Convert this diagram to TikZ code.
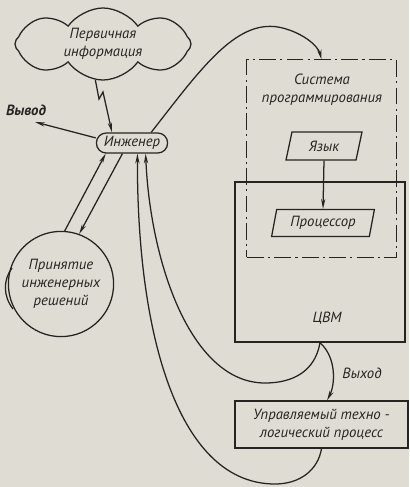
\documentclass[tikz,border=0pt]{standalone}
\usepackage{fontspec}
\setmainfont{PT Sans}
\usepackage{tikz}
\usetikzlibrary{shapes.geometric, shapes.symbols, shapes.misc, arrows.meta, calc, positioning}
\usepackage{xcolor}
\definecolor{paper}{RGB}{222,220,211}
\definecolor{ink}{RGB}{38,36,34}

\begin{document}
\begin{tikzpicture}[x=0.025cm, y=-0.025cm, line width=0.9pt, color=ink]
        \tikzstyle{lbl}=[font=\fontsize{10.5}{13}\selectfont\itshape, align=center, inner sep=1pt]
        \tikzstyle{slanted}=[draw, trapezium, trapezium left angle=77, trapezium right angle=103, trapezium stretches=true, lbl]
        \tikzstyle{dashdot}=[line width=0.7pt, dash pattern=on 12pt off 3pt on 1.5pt off 3pt]
        \tikzstyle{arrowline}=[-{Stealth[length=7pt, width=3pt]}]
        % page
        \path[use as bounding box, fill=paper] (0,0) rectangle (409,487);
        % cloud with the first-hand data
        \node[draw, cloud, cloud puffs=8, cloud puff arc=110, aspect=2.5, minimum width=4.4cm, minimum height=1.8cm, lbl] (info) at (103,44) {Первичная\\информация};
        % the engineer
        \node[draw, rounded corners=7pt, minimum width=1.78cm, minimum height=0.5cm, lbl] (eng) at (132,143) {Инженер};
        \node[lbl, font=\fontsize{10.5}{13}\selectfont\bfseries\itshape] (outlbl) at (26,110) {Вывод};
        \coordinate (outend) at (35,122);
        % decision making
        \node[draw, circle, minimum size=2.63cm, lbl] (dec) at (61,284) {Принятие\\инженерных\\решений};
        % computer and its programming system
        \node[draw, minimum width=4.25cm, minimum height=4cm] (comp) at (320,262) {};
        \node[lbl] (comptitle) at (327,318) {ЦВМ};
        \node[draw, dashdot, minimum width=3.725cm, minimum height=4.925cm] (sys) at (321.5,158.5) {};
        \node[lbl] (systitle) at (322,90) {Система\\программирования};
        \node[slanted, minimum width=1.9cm, minimum height=0.7cm] (lang) at (324,146) {Язык};
        \node[slanted, minimum width=2.575cm, minimum height=0.675cm] (proc) at (323,223) {Процессор};
        % controlled process
        \node[draw, minimum width=4.325cm, minimum height=1.175cm, lbl] (plant) at (321.5,424.5) {Управляемый техно -\\логический процесс};
        \node[lbl] (outlbl2) at (362,373) {Выход};
        % connectors
        \draw[arrowline] (info.258) -- (99,99) -- (103,92) -- (eng.152);
        \draw[arrowline] (eng.172) -- (outend);
        \draw[arrowline] (eng.29) .. controls (200,70) and (235,20) .. (278,27)
            .. controls (300,31) and (318,45) .. (sys.north);
        \draw[arrowline] (lang.south) -- (proc.north);
        \draw[arrowline] (dec.86) -- (eng.202);
        \draw[arrowline] (eng.228) -- (dec.70);
        \draw[arrowline] (comp.south) .. controls (337,358) and (335,385) .. (plant.77);
        \draw[arrowline] (comp.south) .. controls (315,372) and (292,383) .. (265,383)
            .. controls (190,383) and (150,260) .. (eng.322);
        \draw[arrowline] (plant.south) .. controls (318,470) and (300,484) .. (275,484)
            .. controls (180,484) and (137,340) .. (eng.297);
        % second stroke left of the circle
        \draw (12,268) .. controls (3,280) and (3,296) .. (13,309);
\end{tikzpicture}
\end{document}
